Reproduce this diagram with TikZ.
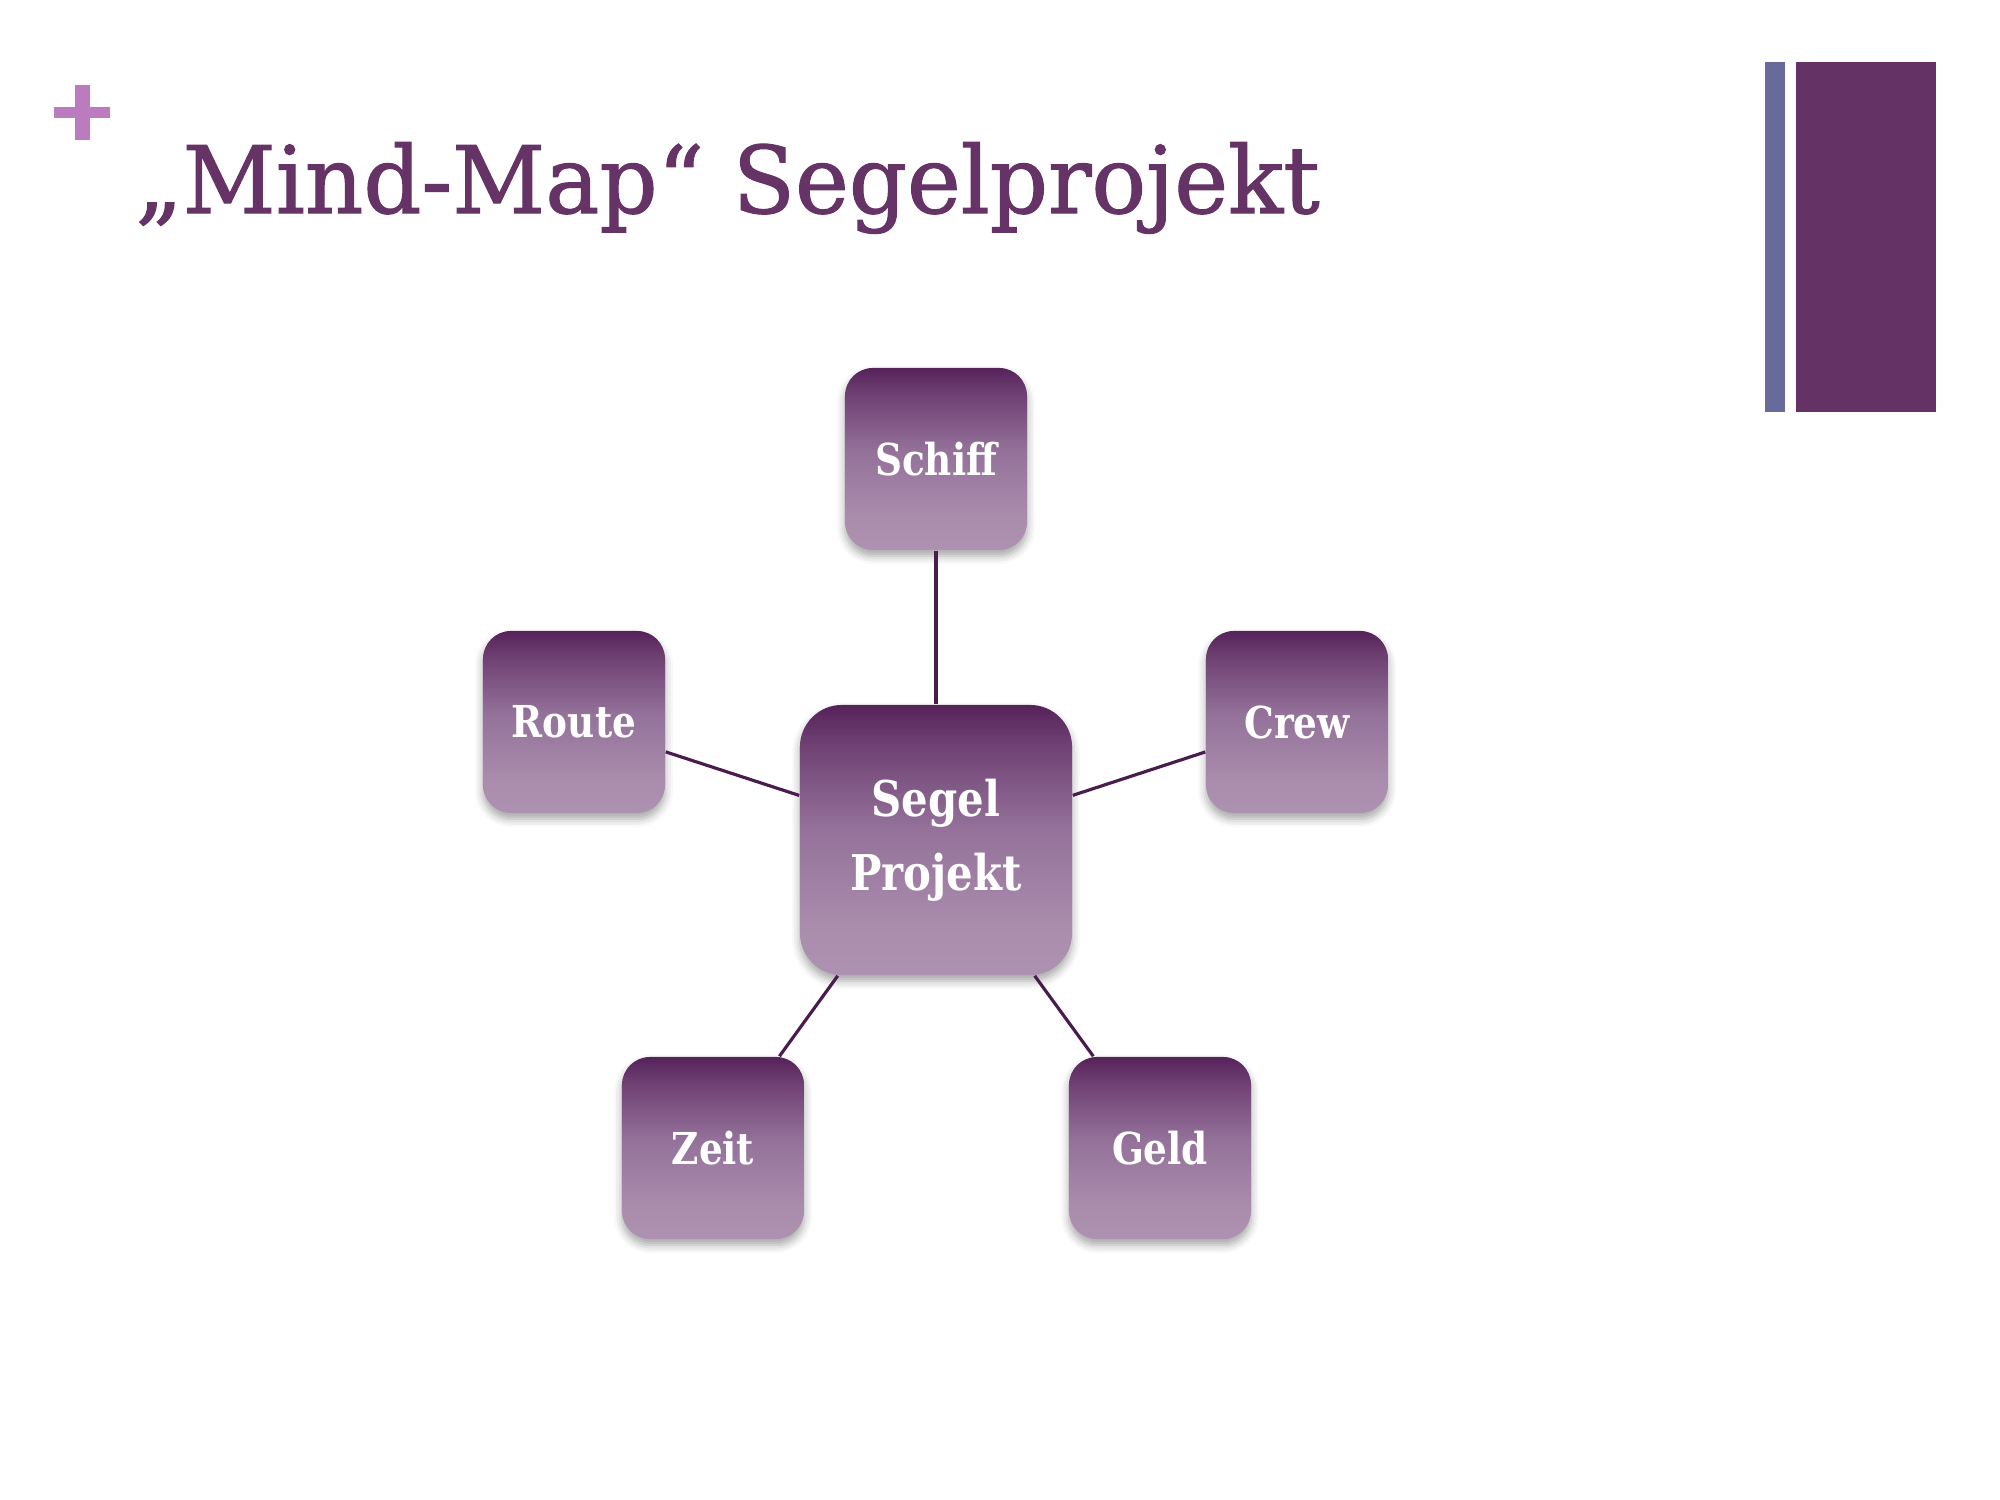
\documentclass[tikz,border=0pt]{standalone}
\usepackage{fontspec}
\setmainfont{DejaVu Serif}
\newfontfamily\boxfont[FakeStretch=0.85]{DejaVu Serif}
\newfontfamily\titlefont[FakeStretch=0.975,FakeBold=1.2]{DejaVu Serif}
\usetikzlibrary{shadows.blur}
\definecolor{titleC}{HTML}{663366}
\definecolor{plusC}{HTML}{BD7BBF}
\definecolor{barBlue}{HTML}{676A9A}
\definecolor{barPurple}{HTML}{643264}
\definecolor{lineC}{HTML}{4A1C4E}
\definecolor{shA}{HTML}{AE92B1}
\definecolor{shB}{HTML}{AA8CAD}
\definecolor{shC}{HTML}{94729A}
\definecolor{shD}{HTML}{6E4072}
\definecolor{shE}{HTML}{55225A}
\pgfdeclareverticalshading{boxshade}{100bp}{color(0bp)=(shA); color(25bp)=(shA); color(34bp)=(shB); color(52bp)=(shC); color(68bp)=(shD); color(75bp)=(shE); color(100bp)=(shE)}
\tikzset{
  mmbox/.style={rectangle, rounded corners=0.28cm, minimum width=1.82cm, minimum height=1.82cm,
    inner sep=0pt, shading=boxshade, text=white,
    font=\boxfont\bfseries\fontsize{12.5}{15}\selectfont,
    blur shadow={shadow xshift=0pt, shadow yshift=-0.06cm, shadow blur radius=0.08cm, shadow opacity=35}},
  centerbox/.style={mmbox, rounded corners=0.42cm, minimum width=2.72cm, minimum height=2.70cm,
    font=\boxfont\bfseries\fontsize{14}{21}\selectfont, align=center},
  link/.style={draw=lineC, line width=0.9pt},
  titletext/.style={inner sep=0pt, anchor=base west, text=titleC, font=\titlefont\fontsize{26.5}{30}\selectfont}
}
\begin{document}
\begin{tikzpicture}[x=0.01cm, y=-0.01cm]
\useasboundingbox (0,0) rectangle (2000,1500);
% plus
\fill[plusC] (54,107) rectangle (110,118);
\fill[plusC] (75,85) rectangle (90,140);
% bars
\fill[barBlue] (1765,62) rectangle (1785,412);
\fill[barPurple] (1796,62) rectangle (1936,412);
% title
\node[titletext] (title) at (135,213) {„Mind-Map“ Segelprojekt};
% nodes
\node[centerbox] (center) at (936,840) {Segel\\Projekt};
\node[mmbox] (schiff) at (936,459) {Schiff};
\node[mmbox] (route) at (574,722) {Route};
\node[mmbox] (crew) at (1297,722) {Crew};
\node[mmbox] (zeit) at (713,1148) {Zeit};
\node[mmbox] (geld) at (1160,1148) {Geld};
% connectors
\draw[link] (center) -- (schiff);
\draw[link] (center) -- (route);
\draw[link] (center) -- (crew);
\draw[link] (center) -- (zeit);
\draw[link] (center) -- (geld);
\end{tikzpicture}
\end{document}
